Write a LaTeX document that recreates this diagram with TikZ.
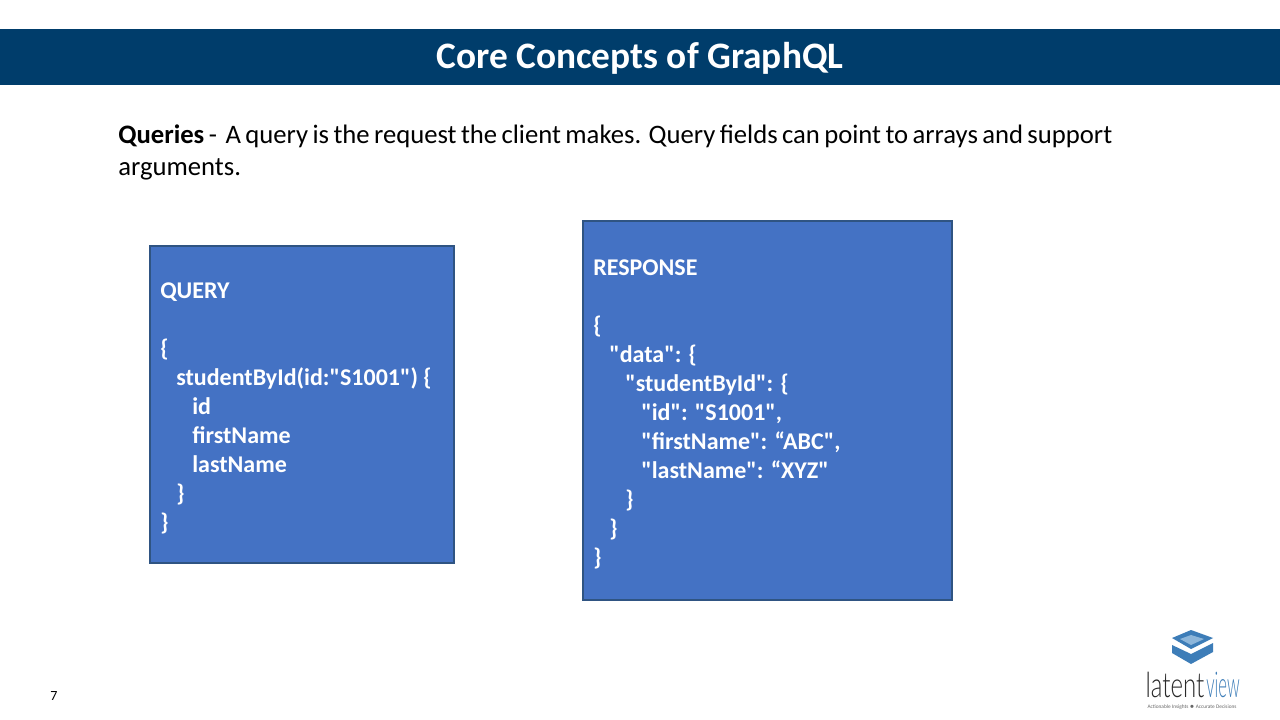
\documentclass[tikz,border=0pt]{standalone}
\usepackage{fontspec}
\setmainfont{Carlito}[Ligatures=TeXOff]
\newfontfamily\logofont{Lato Light}
\definecolor{bandblue}{HTML}{003D6B}
\definecolor{boxblue}{HTML}{4472C4}
\definecolor{boxedge}{HTML}{2F5482}
\definecolor{logoblue}{HTML}{3D7DB8}
\definecolor{logolight}{HTML}{8DB6DA}
\definecolor{logodark}{HTML}{2A2A2A}
\tikzset{
  codebox/.style={draw=boxedge,line width=1.5pt,fill=boxblue,anchor=north west,inner sep=0pt},
  codetext/.style={anchor=north west,inner sep=0pt,text=white,align=left,font=\fontsize{18pt}{21.75pt}\selectfont\bfseries},
}
\begin{document}
\begin{tikzpicture}[x=0.75pt,y=-0.75pt]
\useasboundingbox (0,0) rectangle (1280,720);
\fill[white] (0,0) rectangle (1280,720);
\node[fill=bandblue,anchor=north west,inner sep=0pt,minimum width=960pt,minimum height=42pt] (band) at (0,29) {};
\node[text=white,font=\fontsize{28pt}{32pt}\selectfont\bfseries] (title) at (640,58) {Core Concepts of GraphQL};
\node[anchor=north west,inner sep=0pt] (body) at (118,125) {\parbox{745.5pt}{\hyphenpenalty=10000\fontsize{20pt}{24pt}\selectfont\textbf{Queries} -\ \ A query is the request the client makes. Query fields can point to arrays and support arguments.}};
\node[codebox,minimum width=228pt,minimum height=238pt] (qbox) at (149,245) {};
\node[codebox,minimum width=276.5pt,minimum height=284.5pt] (rbox) at (582,220) {};
\node[codetext] (qtext) at (160,282) {QUERY\\[21.75pt]\{\\\hspace*{12pt}studentById(id:"S1001") \{\\\hspace*{24pt}id\\\hspace*{24pt}firstName\\\hspace*{24pt}lastName\\\hspace*{12pt}\}\\\}};
\node[codetext] (rtext) at (593,259) {RESPONSE\\[21.75pt]\{\\\hspace*{12pt}"data": \{\\\hspace*{24pt}"studentById": \{\\\hspace*{36pt}"id": "S1001",\\\hspace*{36pt}"firstName": “ABC",\\\hspace*{36pt}"lastName": “XYZ"\\\hspace*{24pt}\}\\\hspace*{12pt}\}\\\}};
\node[font=\fontsize{10.5pt}{12pt}\selectfont] (pagenum) at (54,696) {7};
% logo
\fill[logoblue] (1191,630) -- (1213,638) -- (1191,649) -- (1172,638) -- cycle;
\fill[logolight] (1191,635) -- (1204,639) -- (1191,645) -- (1180,639) -- cycle;
\fill[logoblue] (1172,645) -- (1191,654) -- (1213,643) -- (1213,652) -- (1191,664) -- (1172,653) -- cycle;
\node[inner sep=0pt,text=logodark] (logoa) at (1175,685) {\logofont\resizebox{44pt}{19pt}{\fontsize{20pt}{22pt}\selectfont latent}};
\node[inner sep=0pt,text=logoblue] (logob) at (1223,685) {\logofont\resizebox{25pt}{19pt}{\fontsize{20pt}{22pt}\selectfont view}};
\node[inner sep=0pt,text=black!60] (tagline) at (1192,707) {\fontsize{4pt}{5pt}\selectfont Actionable Insights $\bullet$ Accurate Decisions};
\end{tikzpicture}
\end{document}
